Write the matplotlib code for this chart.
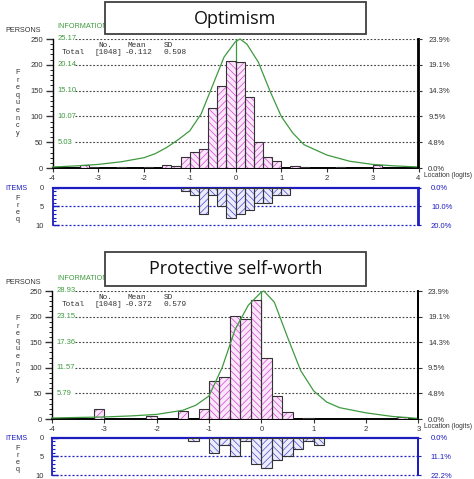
import matplotlib
matplotlib.use('Agg')
import matplotlib.pyplot as plt
from matplotlib.patches import Rectangle

W, H = 474, 479
DPI = 100

# ---------------- data ----------------
bin_width = 0.2

opt_title = "Optimism"
opt_xticks = [-4, -3, -2, -1, 0, 1, 2, 3, 4]
opt_person_bins = [-3.4, -3.2, -2.6, -2.0, -1.6, -1.4, -1.2, -1.0, -0.8, -0.6, -0.4,
                   -0.2, 0.0, 0.2, 0.4, 0.6, 0.8, 1.2, 1.4, 2.2, 3.0]
opt_person_counts = [6, 2, 1, 2, 5, 3, 21, 31, 36, 116, 158,
                     207, 205, 138, 51, 22, 13, 3, 2, 1, 5]
opt_item_bins = [-1.2, -1.0, -0.8, -0.6, -0.4, -0.2, 0.0, 0.2, 0.4, 0.6, 0.8, 1.0]
opt_item_counts = [1, 2, 7, 2, 5, 8, 7, 6, 4, 4, 2, 2]
opt_info_x = [-4, -3.5, -3, -2.5, -2, -1.75, -1.5, -1.25, -1, -0.75, -0.5, -0.25,
              0, 0.1, 0.25, 0.5, 0.75, 1, 1.25, 1.5, 2, 2.5, 3, 3.5, 4]
opt_info_y = [0.20, 0.40, 0.70, 1.21, 2.01, 2.82, 4.03, 5.54, 7.25, 10.57, 16.11, 21.65,
              24.67, 25.17, 24.16, 20.64, 15.10, 10.07, 6.85, 4.53, 2.52, 1.31, 0.70, 0.40, 0.20]
opt_info_max = 25.17
opt_info_labels = ["5.03", "10.07", "15.10", "20.14", "25.17"]
opt_stats = ["[1048]", "-0.112", "0.598"]
opt_person_pct = ["0.0%", "4.8%", "9.5%", "14.3%", "19.1%", "23.9%"]
opt_item_pct = ["0.0%", "10.0%", "20.0%"]

psw_title = "Protective self-worth"
psw_xticks = [-4, -3, -2, -1, 0, 1, 2, 3]
psw_person_bins = [-3.2, -2.2, -1.6, -1.2, -1.0, -0.8, -0.6, -0.4, -0.2, 0.0, 0.2, 0.4, 0.8, 2.6]
psw_person_counts = [20, 5, 15, 19, 74, 82, 201, 195, 232, 120, 45, 14, 1, 3]
psw_item_bins = [-1.4, -1.0, -0.8, -0.6, -0.4, -0.2, 0.0, 0.2, 0.4, 0.6, 0.8, 1.0]
psw_item_counts = [1, 4, 2, 5, 1, 7, 8, 6, 5, 3, 1, 2]
psw_info_x = [-4, -3.5, -3, -2.5, -2, -1.5, -1.25, -1, -0.75, -0.5, -0.25, 0, 0.05,
              0.25, 0.5, 0.75, 1, 1.25, 1.5, 2, 2.5, 3]
psw_info_y = [0.23, 0.35, 0.46, 0.69, 1.04, 1.97, 3.12, 5.21, 11.57, 20.25, 25.69, 28.70, 28.93,
              26.38, 18.52, 10.99, 6.36, 3.82, 2.55, 1.39, 0.58, 0.12]
psw_info_max = 28.93
psw_info_labels = ["5.79", "11.57", "17.36", "23.15", "28.93"]
psw_stats = ["[1048]", "-0.372", "0.579"]
psw_person_pct = ["0.0%", "4.8%", "9.5%", "14.3%", "19.1%", "23.9%"]
psw_item_pct = ["0.0%", "11.1%", "22.2%"]

person_ticks = [0, 50, 100, 150, 200, 250]
item_ticks = [0, 5, 10]

# ---------------- style ----------------
GREEN = '#3f9a3f'
BLUE = '#1c1cc0'
DARK = '#333333'
PINK_FILL = '#fbe6fb'
PINK_HATCH = '#cf45cf'
BLUE_FILL = '#ececff'
BLUE_HATCH = '#4a4ac8'
SANS = 'Liberation Sans'
MONO = 'Liberation Mono'

plt.rcParams['hatch.linewidth'] = 0.5
plt.rcParams['font.family'] = SANS

fig = plt.figure(figsize=(W / DPI, H / DPI), dpi=DPI)


def add_ax(x0, y0, x1, y1):
    return fig.add_axes([x0 / W, 1 - y1 / H, (x1 - x0) / W, (y1 - y0) / H])


def ftext(x, y, s, **kw):
    return fig.text(x / W, 1 - y / H, s, **kw)


def hatched_bars(ax, bins, counts, fill, hcol):
    bars = ax.bar(bins, counts, width=bin_width, align='edge', facecolor=fill,
                  edgecolor=hcol, linewidth=0, zorder=3)
    for b, x in zip(bars, bins):
        k = int(round(x / bin_width))
        b.set_hatch('/////' if k % 2 == 0 else '\\\\\\\\\\')
    ax.bar(bins, counts, width=bin_width, align='edge', facecolor='none',
           edgecolor=DARK, linewidth=0.8, zorder=4)


def panel(xlim, xticks, pbins, pcounts, ibins, icounts, ix, iy, imax, ilabels,
          stats, ppct, ipct, title, x0, x1, ptop, pbot, itop, ibot, freq_y, ifreq_y,
          box_top, box_bot):
    # title box
    fig.patches.append(Rectangle((105 / W, 1 - box_bot / H), (366 - 105) / W,
                                 (box_bot - box_top) / H, transform=fig.transFigure,
                                 facecolor='white', edgecolor='#404040', lw=1.3, zorder=5))
    ftext(235.5, (box_top + box_bot) / 2 + 0.5, title, ha='center', va='center',
          fontsize=13, family='Open Sans', color='#111111', zorder=6)

    # persons axes
    ax = add_ax(x0, ptop, x1, pbot)
    ax.set_xlim(*xlim)
    ax.set_ylim(0, 250)
    ax.patch.set_alpha(0)
    ax.spines['top'].set_visible(False)
    ax.spines['left'].set_linewidth(1.0)
    ax.spines['bottom'].set_linewidth(1.4)
    ax.spines['right'].set_linewidth(1.3)
    ax.set_yticks(person_ticks)
    ax.set_yticks(range(0, 251, 10), minor=True)
    ax.tick_params(axis='y', which='major', direction='out', length=5, width=1,
                   labelsize=5.5, pad=2, colors=DARK)
    ax.tick_params(axis='y', which='minor', direction='out', length=2.5, width=0.6)
    ax.set_xticks(xticks)
    ax.set_xticklabels([str(t) for t in xticks])
    ax.tick_params(axis='x', direction='out', length=3, width=0.8, labelsize=5.5, pad=2,
                   colors=DARK)
    # gridlines & info labels
    for k, lab in enumerate(ilabels):
        yv = person_ticks[k + 1]
        ax.axhline(yv, xmin=0.062, xmax=1, color='#444444', lw=0.8,
                   linestyle=(0, (1.6, 1.6)), zorder=1)
        ax.text(0.013, yv, lab, transform=ax.get_yaxis_transform(), color=GREEN,
                fontsize=5.5, va='center', ha='left')
    ax.vlines(0, 0, 250, color=GREEN, lw=0.9, zorder=2)
    hatched_bars(ax, pbins, pcounts, PINK_FILL, PINK_HATCH)
    ax.plot(ix, [v * 250 / imax for v in iy], color=GREEN, lw=0.9, zorder=5,
            clip_on=False)
    # right percentages
    axr = ax.twinx()
    axr.set_ylim(0, 250)
    axr.set_yticks(person_ticks)
    axr.set_yticklabels(ppct)
    axr.tick_params(axis='y', direction='out', length=3, labelsize=5.5, pad=4, colors=DARK)
    for s in ['top', 'left', 'bottom']:
        axr.spines[s].set_visible(False)
    axr.spines['right'].set_linewidth(1.3)
    ax.text(1.016, -0.06, "Location (logits)", transform=ax.transAxes, fontsize=4.9,
            color=DARK, va='center', ha='left')

    # labels left
    ftext(5, ptop - 8, "PERSONS", fontsize=5.2, color=DARK, va='center')
    ftext(57, ptop - 12, "INFORMATION", fontsize=5.2, color=GREEN, va='center')
    ftext(18, freq_y, "F\nr\ne\nq\nu\ne\nn\nc\ny", fontsize=5.2, color=DARK,
          ha='center', va='center', linespacing=1.12)
    # stats
    ftext(98, ptop + 6.5, "No.", family=MONO, fontsize=5.6, color=DARK, va='center')
    ftext(128, ptop + 6.5, "Mean", family=MONO, fontsize=5.6, color=DARK, va='center')
    ftext(164, ptop + 6.5, "SD", family=MONO, fontsize=5.6, color=DARK, va='center')
    ftext(62, ptop + 13.5, "Total", family=MONO, fontsize=5.6, color=DARK, va='center')
    ftext(95, ptop + 13.5, stats[0], family=MONO, fontsize=5.6, color=DARK, va='center')
    ftext(125, ptop + 13.5, stats[1], family=MONO, fontsize=5.6, color=DARK, va='center')
    ftext(164, ptop + 13.5, stats[2], family=MONO, fontsize=5.6, color=DARK, va='center')

    # items axes
    ai = add_ax(x0, itop, x1, ibot)
    ai.set_xlim(*xlim)
    ai.set_ylim(10, 0)
    ai.patch.set_alpha(0)
    ai.spines['bottom'].set_visible(False)
    for s, lw in [('top', 1.6), ('left', 1.3), ('right', 1.3)]:
        ai.spines[s].set_color(BLUE)
        ai.spines[s].set_linewidth(lw)
    ai.set_xticks([])
    ai.set_yticks(item_ticks)
    ai.set_yticks(range(0, 11), minor=True)
    ai.tick_params(axis='y', which='major', direction='in', length=4, width=1.0,
                   color=BLUE, labelsize=5.5, pad=6, labelcolor=DARK)
    ai.tick_params(axis='y', which='minor', direction='in', length=2.5, width=0.8,
                   color=BLUE)
    for yv in [5, 10]:
        ai.axhline(yv, color=BLUE, lw=0.9, linestyle=(0, (1.6, 1.6)), zorder=1,
                   clip_on=False)
    hatched_bars(ai, ibins, icounts, BLUE_FILL, BLUE_HATCH)
    air = ai.twinx()
    air.set_ylim(10, 0)
    air.set_yticks(item_ticks)
    air.set_yticklabels(ipct)
    air.tick_params(axis='y', direction='out', length=2, color=BLUE, labelsize=5.5,
                    pad=7, labelcolor=BLUE)
    for s in ['top', 'left', 'bottom']:
        air.spines[s].set_visible(False)
    air.spines['right'].set_color(BLUE)
    air.spines['right'].set_linewidth(1.3)

    ftext(5, itop + 0.5, "ITEMS", fontsize=5.2, color=BLUE, va='center')
    ftext(18, ifreq_y, "F\nr\ne\nq", fontsize=5.2, color=DARK, ha='center', va='center',
          linespacing=1.0)


panel((-4, 4), opt_xticks, opt_person_bins, opt_person_counts, opt_item_bins,
      opt_item_counts, opt_info_x, opt_info_y, opt_info_max, opt_info_labels, opt_stats,
      opt_person_pct, opt_item_pct, opt_title,
      52.5, 418.5, 39, 168, 187.7, 225, 103, 209, 2, 34)

panel((-4, 3), psw_xticks, psw_person_bins, psw_person_counts, psw_item_bins,
      psw_item_counts, psw_info_x, psw_info_y, psw_info_max, psw_info_labels, psw_stats,
      psw_person_pct, psw_item_pct, psw_title,
      52, 418.3, 291, 419, 437.7, 475, 349, 459, 252, 286)

fig.savefig('out.png', dpi=DPI)
